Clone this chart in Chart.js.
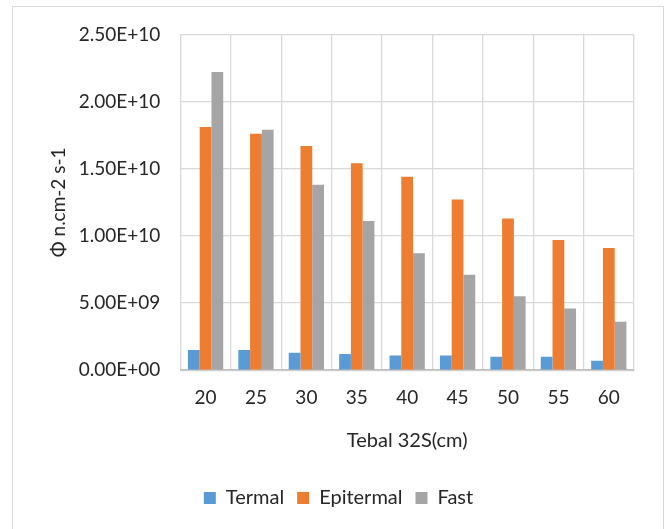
<!DOCTYPE html>
<html lang="en">
<head>
  <meta charset="UTF-8" />
  <title>Tebal 32S</title>
  <script src="https://cdn.jsdelivr.net/npm/chart.js"></script>
  <style>
    body {
      margin: 0;
      background: white;
    }
    .frame {
      position: absolute;
      left: 12px;
      top: 6px;
      width: 650px;
      height: 530px;
      border: 1px solid #d9d9d9;
      border-bottom: none;
    }
    #chart {
      position: absolute;
      left: 0;
      top: -4px;
    }
  </style>
</head>
<body>
  <div class="frame">
    <canvas id="chart" width="650" height="527"></canvas>
  </div>

<script>
  const tebal = ['20', '25', '30', '35', '40', '45', '50', '55', '60'];
  const termal = [1.5e9, 1.5e9, 1.3e9, 1.2e9, 1.1e9, 1.1e9, 1.0e9, 1.0e9, 0.7e9];
  const epitermal = [1.81e10, 1.76e10, 1.67e10, 1.54e10, 1.44e10, 1.27e10, 1.13e10, 9.7e9, 9.1e9];
  const fast = [2.22e10, 1.79e10, 1.38e10, 1.11e10, 8.7e9, 7.1e9, 5.5e9, 4.6e9, 3.6e9];

  // excel style scientific labels, e.g. 5.00E+09
  function sci(v) {
    const parts = v.toExponential(2).split('e');
    const exp = parseInt(parts[1]);
    const sign = exp < 0 ? '-' : '+';
    return parts[0] + 'E' + sign + String(Math.abs(exp)).padStart(2, '0');
  }

  const font = 'Lato, "Open Sans", sans-serif';
  Chart.defaults.font.family = font;
  Chart.defaults.color = '#262626';

  new Chart(document.getElementById('chart'), {
    type: 'bar',
    data: {
      labels: tebal,
      datasets: [
        { label: 'Termal', data: termal, backgroundColor: '#5b9bd5' },
        { label: 'Epitermal', data: epitermal, backgroundColor: '#ed7d31' },
        { label: 'Fast', data: fast, backgroundColor: '#a5a5a5' }
      ]
    },
    options: {
      responsive: false,
      animation: false,
      categoryPercentage: 0.7,
      barPercentage: 1.0,
      layout: { padding: { left: 30, right: 29, top: 14, bottom: 12 } },
      plugins: {
        legend: {
          position: 'bottom',
          labels: { boxWidth: 12, boxHeight: 12, padding: 13, font: { size: 20 }, color: '#262626' }
        },
        tooltip: { enabled: false }
      },
      scales: {
        x: {
          grid: { color: '#d9d9d9', lineWidth: 1.3, drawTicks: false },
          border: { color: '#bfbfbf', width: 1.5 },
          ticks: { font: { size: 19 }, padding: 16 },
          title: { display: true, text: 'Tebal 32S(cm)', font: { size: 20 }, padding: { top: 4, bottom: 22 } }
        },
        y: {
          min: 0,
          max: 2.5e10,
          grid: { color: '#d9d9d9', lineWidth: 1.3, drawTicks: false },
          border: { display: false },
          ticks: { stepSize: 5e9, font: { size: 19 }, padding: 20, callback: v => sci(v) },
          title: { display: true, text: 'Φ n.cm-2 s-1', font: { size: 19 }, padding: { bottom: -11 } }
        }
      }
    }
  });
</script>
</body>
</html>
